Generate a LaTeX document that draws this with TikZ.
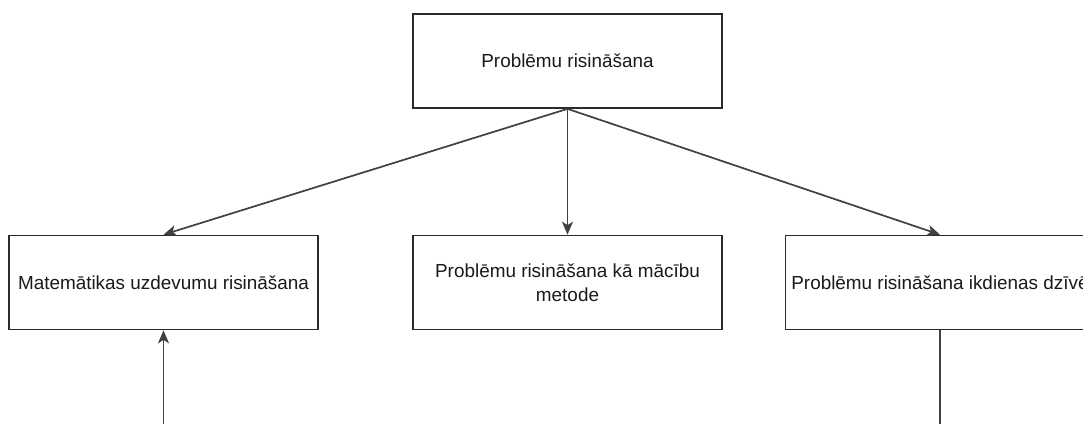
\documentclass[tikz,border=0pt]{standalone}
\usepackage{fontspec}
\setmainfont{Liberation Sans}
\usetikzlibrary{arrows.meta}
\definecolor{edgegray}{HTML}{2B2B2B}
\definecolor{txt}{HTML}{1A1A1A}
\tikzset{
  box/.style={draw=edgegray, line width=1.7pt, minimum width=309pt, minimum height=94pt,
    inner sep=0pt, text=txt, align=center, font=\fontsize{18.9}{24}\selectfont},
  conn/.style={draw=edgegray!90!white, line width=1.7pt},
  arr/.style={conn, -{Stealth[length=13pt,width=11pt,inset=3.5pt]}}
}
\begin{document}
\begin{tikzpicture}[x=1pt,y=-1pt]
\useasboundingbox (0,0) rectangle (1083,423);
\clip (0,0) rectangle (1083,423);
\fill[white] (0,0) rectangle (1083,423);
\node[box] (top) at (567.5,61) {Problēmu risināšana};
\node[box] (left) at (163.5,282.5) {Matemātikas uzdevumu risināšana};
\node[box] (mid) at (567.5,282.5) {Problēmu risināšana kā mācību\\metode};
\node[box] (right) at (940,282.5) {\makebox[0pt]{Problēmu risināšana ikdienas dzīvē}};
\coordinate (bl) at (163.5,430);
\coordinate (br) at (940,430);
\draw[arr] (top.south) -- (left.north);
\draw[arr] (top.south) -- (mid.north);
\draw[arr] (top.south) -- (right.north);
\draw[arr] (bl) -- (left.south);
\draw[conn] (right.south) -- (br);
\end{tikzpicture}
\end{document}
